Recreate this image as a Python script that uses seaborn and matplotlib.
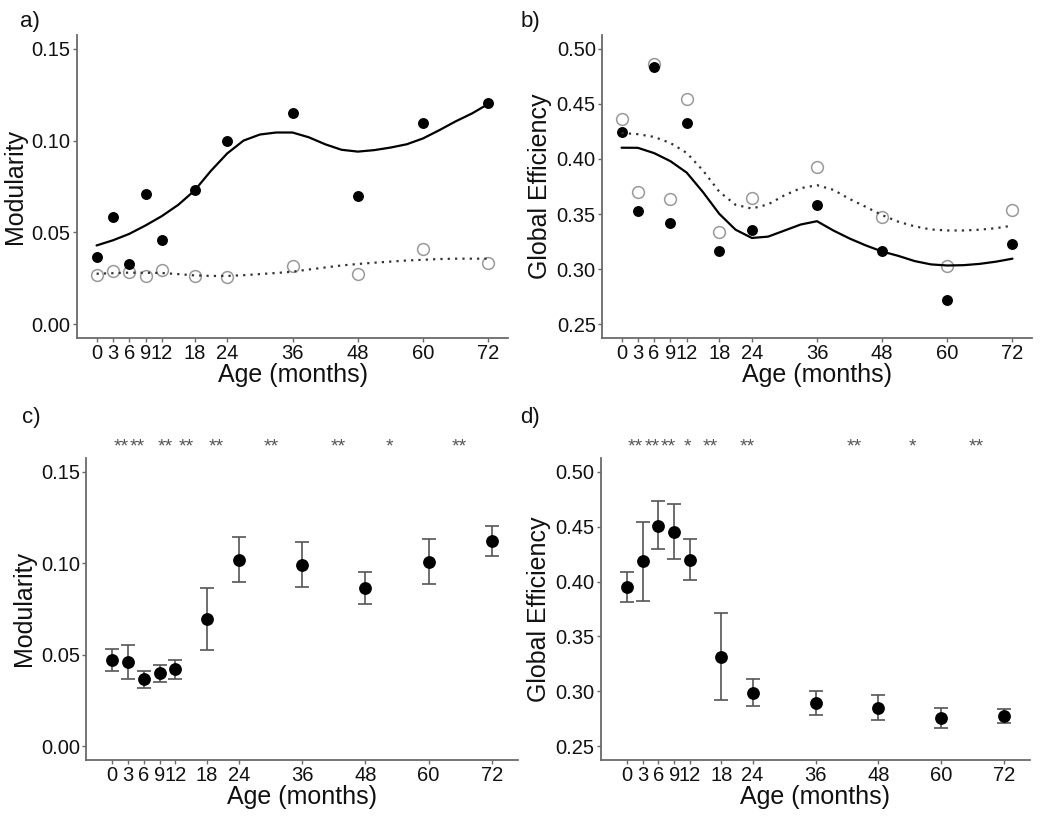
import matplotlib
matplotlib.use("Agg")
import matplotlib.pyplot as plt
import seaborn as sns
import numpy as np

# ---------------- data ----------------
ages = [0, 3, 6, 9, 12, 18, 24, 36, 48, 60, 72]
age_labels = ["0", "3", "6", "9", "12", "18", "24", "36", "48", "60", "72"]

# panel a: modularity (filled = observed group 1, open = group 2)
mod_filled = [0.0366, 0.0583, 0.0326, 0.0710, 0.0460, 0.0731, 0.0997, 0.1150, 0.0697, 0.1095, 0.1204]
mod_open = [0.0270, 0.0288, 0.0286, 0.0262, 0.0298, 0.0262, 0.0256, 0.0317, 0.0274, 0.0408, 0.0336]

# smooth fits
fit_x = [0, 3, 6, 9, 12, 15, 18, 21, 24, 27, 30, 33, 36, 39, 42, 45, 48, 51, 54, 57, 60, 63, 66, 69, 72]
mod_fit_filled = [0.0429, 0.0457, 0.0492, 0.0538, 0.0589, 0.0650, 0.0728, 0.0835, 0.0930, 0.1000, 0.1033,
                  0.1044, 0.1044, 0.1018, 0.0980, 0.0950, 0.0940, 0.0948, 0.0962, 0.0980, 0.1012, 0.1057,
                  0.1105, 0.1148, 0.1200]
mod_fit_open = [0.0275, 0.0278, 0.0281, 0.0280, 0.0279, 0.0273, 0.0266, 0.0263, 0.0263, 0.0267, 0.0273,
                0.0279, 0.0286, 0.0298, 0.0309, 0.0320, 0.0328, 0.0335, 0.0341, 0.0347, 0.0351, 0.0355,
                0.0357, 0.0357, 0.0357]

# panel b: global efficiency
geff_filled = [0.4242, 0.3526, 0.4834, 0.3422, 0.4322, 0.3167, 0.3355, 0.3578, 0.3167, 0.2719, 0.3226]
geff_open = [0.4361, 0.3703, 0.4860, 0.3640, 0.4547, 0.3335, 0.3643, 0.3928, 0.3471, 0.3028, 0.3535]
geff_fit_filled = [0.4102, 0.4101, 0.4053, 0.3980, 0.3876, 0.3699, 0.3502, 0.3358, 0.3283, 0.3295, 0.3350,
                   0.3405, 0.3435, 0.3351, 0.3278, 0.3215, 0.3160, 0.3120, 0.3073, 0.3043, 0.3033, 0.3036,
                   0.3048, 0.3068, 0.3095]
geff_fit_open = [0.4235, 0.4225, 0.4200, 0.4145, 0.4055, 0.3895, 0.3703, 0.3584, 0.3550, 0.3588, 0.3670,
                 0.3735, 0.3762, 0.3720, 0.3637, 0.3565, 0.3490, 0.3430, 0.3388, 0.3360, 0.3351, 0.3351,
                 0.3358, 0.3372, 0.3395]

# panel c: modularity mean with interval
c_mean = [0.0472, 0.0461, 0.0365, 0.0401, 0.0421, 0.0695, 0.1017, 0.0992, 0.0863, 0.1006, 0.1123]
c_lo = [0.0412, 0.0365, 0.0319, 0.0352, 0.0370, 0.0524, 0.0896, 0.0872, 0.0776, 0.0885, 0.1041]
c_hi = [0.0530, 0.0555, 0.0410, 0.0446, 0.0470, 0.0865, 0.1141, 0.1114, 0.0952, 0.1130, 0.1206]
c_star_x = [1.7, 4.7, 10.1, 14.0, 19.7, 30.1, 42.8, 52.6, 65.9]
c_star_lab = ["**", "**", "**", "**", "**", "**", "**", "*", "**"]

# panel d: global efficiency mean with interval
d_mean = [0.3952, 0.4184, 0.4510, 0.4455, 0.4199, 0.3313, 0.2987, 0.2893, 0.2850, 0.2759, 0.2774]
d_lo = [0.3815, 0.3825, 0.4294, 0.4202, 0.4010, 0.2917, 0.2865, 0.2786, 0.2738, 0.2664, 0.2713]
d_hi = [0.4090, 0.4543, 0.4729, 0.4708, 0.4391, 0.3712, 0.3112, 0.3002, 0.2966, 0.2853, 0.2835]
d_star_x = [1.6, 4.8, 7.8, 11.5, 15.9, 22.9, 43.4, 54.6, 66.7]
d_star_lab = ["**", "**", "**", "*", "**", "**", "**", "*", "**"]

mod_ticks = [0.00, 0.05, 0.10, 0.15]
geff_ticks = [0.25, 0.30, 0.35, 0.40, 0.45, 0.50]

# ---------------- style ----------------
sns.set_theme(style="white")
plt.rcParams["font.family"] = ["Liberation Sans", "DejaVu Sans"]

AXC = "#6a6a6a"
W, H = 1050, 817
fig = plt.figure(figsize=(W / 100, H / 100), dpi=100)


def add_ax(l, r, t, b):
    return fig.add_axes([l / W, 1 - b / H, (r - l) / W, (b - t) / H])


def style(ax, xlim, ylim, yticks, ylabel):
    ax.set_xlim(*xlim)
    ax.set_ylim(*ylim)
    ax.set_xticks(ages)
    ax.set_xticklabels(age_labels)
    ax.set_yticks(yticks)
    ax.set_yticklabels([f"{v:.2f}" for v in yticks])
    for s in ["top", "right"]:
        ax.spines[s].set_visible(False)
    for s in ["left", "bottom"]:
        ax.spines[s].set_color(AXC)
        ax.spines[s].set_linewidth(1.3)
    ax.tick_params(axis="both", which="both", direction="out", length=3, width=1.0,
                   color=AXC, labelsize=14.5, labelcolor="#111111", pad=1.5,
                   bottom=True, left=True)
    ax.set_xlabel("Age (months)", fontsize=18, labelpad=0, color="#111111")
    ax.set_ylabel(ylabel, fontsize=18, labelpad=3.5, color="#111111")
    ax.grid(False)
    ax.set_facecolor("white")


ax_a = add_ax(77, 508, 35, 338)
ax_b = add_ax(602, 1032, 35, 338)
ax_c = add_ax(86, 518, 458, 760)
ax_d = add_ax(601, 1030, 458, 760)

dotted = (0, (1, 2.3))

# panel a
sns.scatterplot(x=ages, y=mod_open, ax=ax_a, s=72, facecolor="white", edgecolor="#999999",
                linewidth=1.1, zorder=2, legend=False)
sns.scatterplot(x=ages, y=mod_filled, ax=ax_a, s=62, color="black", edgecolor="black",
                linewidth=0, zorder=3, legend=False)
sns.lineplot(x=fit_x, y=mod_fit_filled, ax=ax_a, color="black", lw=1.6, zorder=4)
sns.lineplot(x=fit_x, y=mod_fit_open, ax=ax_a, color="#333333", lw=1.6, linestyle=dotted, zorder=4)
style(ax_a, (-3.6, 75.6), (-0.0075, 0.1575), mod_ticks, "Modularity")

# panel b
sns.scatterplot(x=ages, y=geff_open, ax=ax_b, s=72, facecolor="white", edgecolor="#999999",
                linewidth=1.1, zorder=2, legend=False)
sns.scatterplot(x=ages, y=geff_filled, ax=ax_b, s=62, color="black", edgecolor="black",
                linewidth=0, zorder=3, legend=False)
sns.lineplot(x=fit_x, y=geff_fit_filled, ax=ax_b, color="black", lw=1.6, zorder=4)
sns.lineplot(x=fit_x, y=geff_fit_open, ax=ax_b, color="#333333", lw=1.6, linestyle=dotted, zorder=4)
style(ax_b, (-3.6, 75.6), (0.2375, 0.5125), geff_ticks, "Global Efficiency")


def err_panel(ax, mean, lo, hi, stars_x, stars_lab):
    m = np.array(mean)
    yerr = [m - np.array(lo), np.array(hi) - m]
    ax.errorbar(ages, mean, yerr=yerr, fmt="none", ecolor="#555555", elinewidth=1.2,
                capsize=4.8, capthick=1.2, zorder=2)
    sns.scatterplot(x=ages, y=mean, ax=ax, s=85, color="black", edgecolor="black",
                    linewidth=0, zorder=3, legend=False)
    tr = ax.get_xaxis_transform()
    for x, lab in zip(stars_x, stars_lab):
        ax.text(x, 1.02, lab, transform=tr, ha="center", va="baseline", fontsize=14,
                color="#555555", clip_on=False)


err_panel(ax_c, c_mean, c_lo, c_hi, c_star_x, c_star_lab)
style(ax_c, (-4.975, 76.975), (-0.0075, 0.1575), mod_ticks, "Modularity")

err_panel(ax_d, d_mean, d_lo, d_hi, d_star_x, d_star_lab)
style(ax_d, (-4.975, 76.975), (0.2375, 0.5125), geff_ticks, "Global Efficiency")

# panel letters
for lab, (px, py) in zip(["a)", "b)", "c)", "d)"], [(30, 22), (530, 22), (31, 418), (530, 418)]):
    fig.text(px / W, 1 - py / H, lab, fontsize=16, ha="center", va="center", color="#111111")

fig.savefig("out.png", dpi=100, facecolor="white")
